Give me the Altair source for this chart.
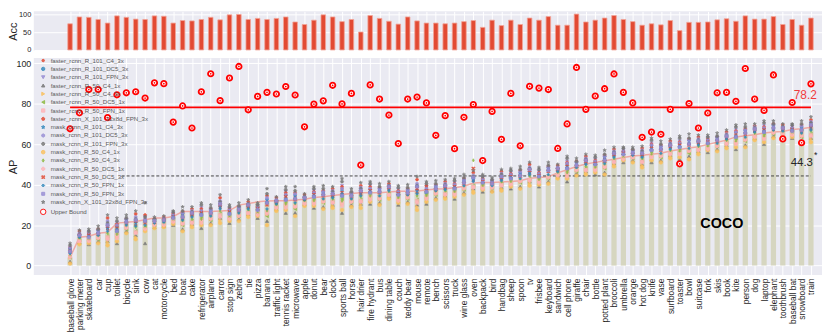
import altair as alt
import pandas as pd

FONT = "Liberation Sans"

categories = ["baseball glove", "parking meter", "skateboard", "car", "cup", "toilet", "bicycle", "sink", "cow", "cat",
              "motorcycle", "bed", "boat", "cake", "refrigerator", "airplane", "carrot", "stop sign", "zebra", "tie",
              "pizza", "banana", "traffic light", "tennis racket", "microwave", "apple", "donut", "bear", "clock", "sports ball",
              "horse", "hair drier", "fire hydrant", "bus", "dining table", "couch", "teddy bear", "mouse", "remote", "bench",
              "scissors", "truck", "wine glass", "oven", "backpack", "bird", "handbag", "sheep", "spoon", "tv",
              "frisbee", "keyboard", "sandwich", "cell phone", "giraffe", "chair", "bottle", "potted plant", "broccoli", "umbrella",
              "orange", "hot dog", "knife", "vase", "surfboard", "toaster", "bowl", "suitcase", "fork", "skis",
              "book", "kite", "person", "dog", "laptop", "elephant", "toothbrush", "baseball bat", "snowboard", "train"]

acc = [73, 92, 91, 85, 75, 95, 91, 86, 85, 95, 94, 75, 82, 81, 85, 91, 84, 98, 99, 85,
       88, 85, 88, 92, 78, 71, 83, 98, 92, 79, 85, 50, 96, 88, 80, 72, 92, 81, 75, 75,
       73, 75, 79, 82, 63, 83, 68, 83, 71, 89, 83, 93, 69, 69, 100, 78, 83, 89, 96, 85,
       79, 69, 73, 70, 82, 54, 77, 77, 78, 84, 87, 80, 95, 86, 86, 93, 71, 85, 69, 89]

mean_ap = [4, 14, 14.5, 16, 16.5, 21, 21.4, 21.8, 22.7, 23.5, 23.5, 24.3, 26.7, 26.7, 26.7, 26.7, 27, 27.2, 29.9, 30.7,
           31.5, 31.9, 32, 32, 32.4, 32.8, 33.7, 34, 34.6, 35.1, 35.6, 36, 36, 36, 36.4, 36.7, 36.7, 36.9, 37.4, 37.9,
           38, 38.5, 39.2, 40.8, 41.1, 41.1, 41.3, 41.6, 41.9, 43.2, 43.5, 43.9, 45.8, 47.4, 49, 50.2, 51, 51.8, 52.6, 53.4,
           54.2, 54.5, 55, 55.5, 56.6, 57.4, 58.1, 58.7, 59.9, 61, 62, 63.6, 64.2, 64.7, 65.5, 66, 66.3, 67.2, 67.6, 68.4]

upper_bound = [67.6, 75.5, 87, 87, 73.1, 84.4, 85.4, 85.9, 82.8, 90.3, 89.9, 70.9, 78.9, 68, 85.9, 94.8, 81.5, 92.7, 98.4, 77,
               83.6, 85.6, 84.8, 88.5, 84.3, 68.6, 79.8, 81.4, 89.1, 79.9, 85.1, 49.7, 89.3, 82.3, 74.4, 60.3, 82.3, 83.3, 80.4, 64.4,
               74.1, 57.8, 73.3, 79.6, 51.9, 76.2, 62.4, 85.1, 59.2, 88.6, 87.7, 87, 57.9, 70, 97.9, 77.2, 83.8, 87.4, 94.7, 85.6,
               80.4, 63.4, 66, 64.9, 77.2, 50.3, 80.1, 68, 75.4, 85.4, 85.6, 81.2, 97.4, 82.3, 76.7, 94.2, 62.6, 80.6, 60.7, 89.8]

upper_line = 78.2
baseline_line = 44.3

models = ["faster_rcnn_R_101_C4_3x", "faster_rcnn_R_101_DC5_3x", "faster_rcnn_R_101_FPN_3x", "faster_rcnn_R_50_C4_1x",
          "faster_rcnn_R_50_C4_3x", "faster_rcnn_R_50_DC5_1x", "faster_rcnn_R_50_FPN_1x", "faster_rcnn_X_101_32x8d_FPN_3x",
          "mask_rcnn_R_101_C4_3x", "mask_rcnn_R_101_DC5_3x", "mask_rcnn_R_101_FPN_3x", "mask_rcnn_R_50_C4_1x",
          "mask_rcnn_R_50_C4_3x", "mask_rcnn_R_50_DC5_1x", "mask_rcnn_R_50_DC5_3x", "mask_rcnn_R_50_FPN_1x",
          "mask_rcnn_R_50_FPN_3x", "mask_rcnn_X_101_32x8d_FPN_3x"]

palette = ["#E24A33", "#348ABD", "#988ED5", "#777777", "#FBC15E", "#8EBA42", "#FFB5B8"]
model_colors = [palette[i % 7] for i in range(len(models))]

PENTAGON = "M0,-1L0.951,-0.309L0.588,0.809L-0.588,0.809L-0.951,-0.309Z"
STAR = "M0,-1L0.235,-0.324L0.951,-0.309L0.38,0.124L0.588,0.809L0,0.4L-0.588,0.809L-0.38,0.124L-0.951,-0.309L-0.235,-0.324Z"
HEX1 = "M0,-1L0.866,-0.5L0.866,0.5L0,1L-0.866,0.5L-0.866,-0.5Z"
HEX2 = "M-1,0L-0.5,-0.866L0.5,-0.866L1,0L0.5,0.866L-0.5,0.866Z"
THIN_D = "M0,-1L0.6,0L0,1L-0.6,0Z"
XMARK = "M-1,-0.6L-0.6,-1L0,-0.4L0.6,-1L1,-0.6L0.4,0L1,0.6L0.6,1L0,0.4L-0.6,1L-1,0.6L-0.4,0Z"
model_shapes = ["circle", "circle", "triangle-down", "triangle-up", "triangle-right", "triangle-left", "square", PENTAGON,
                STAR, HEX1, HEX2, "circle", THIN_D, "cross", XMARK, "diamond", "square", STAR]
model_sizes = [6, 11, 11, 11, 11, 11, 11, 11, 13, 11, 11, 13, 11, 11, 11, 9, 9, 13]

# per category: AP of the 18 models (same order as `models`)
model_ap = [
    [8, 7, 8, 2, 4, 4, 5, 9, 8, 9, 10, 1, 5, 4, 7, 6, 7, 11],
    [14, 15, 14.5, 11.5, 11, 12.5, 12, 17, 14.5, 16, 15.5, 10.5, 13.5, 12, 15, 14, 15, 17.5],
    [16, 14, 16.5, 10.5, 12.5, 13.5, 13, 16, 15.5, 16, 17, 11, 13, 12, 15, 14.5, 14, 18],
    [16.5, 16, 17, 12, 13.5, 13, 14, 18, 17, 17.5, 18, 11, 14.5, 13.5, 15.5, 15, 16, 19.5],
    [18, 20, 18.5, 12, 11.5, 14.5, 14, 23.5, 18.5, 22, 21, 10, 16, 13, 19.5, 17, 20, 25],
    [20, 17, 21, 11, 14, 16, 15, 20.5, 19, 20, 22, 12, 15.5, 13.5, 18.5, 18, 17, 23.5],
    [22, 21.5, 22.5, 17, 18.5, 18, 19, 23, 22.5, 23, 23.5, 16, 19.5, 18.5, 21, 20, 21.5, 25],
    [20, 22.5, 21, 15, 14, 17, 16.5, 25.5, 21, 24, 23, 13, 19, 16, 22, 19.5, 22.5, 27],
    [23, 22, 24, 11, 18, 19, 18, 25, 22, 23, 24, 17, 19, 18, 21, 20, 22, 31],
    [22, 22, 22.5, 19, 20, 20, 20.5, 23, 22.5, 22.5, 23, 18.5, 20.5, 20, 21.5, 21, 22, 24],
    [22, 22.5, 22, 19.5, 19.5, 20.5, 20.5, 24, 22, 23.5, 23, 19, 21, 20, 22.5, 21.5, 22.5, 24.5],
    [25, 23.5, 25.5, 20, 22, 23, 22, 25.5, 24.5, 25, 26.5, 20.5, 22.5, 21.5, 24, 24, 23.5, 27],
    [25, 24, 25.5, 18, 20.5, 20, 21, 26.5, 25.5, 26, 27, 17, 22, 20.5, 23.5, 22.5, 24, 29],
    [24.5, 26, 25, 20.5, 20, 22, 21.5, 28, 25, 27, 26.5, 19, 23, 21, 25.5, 24, 26, 29],
    [27, 25, 28.5, 18.5, 21.5, 23.5, 22.5, 28, 26.5, 27, 30, 20, 23, 21, 26, 25.5, 25, 31],
    [26.5, 26, 27, 21, 23, 22.5, 23.5, 28, 27, 27.5, 28.5, 20, 24, 23, 25.5, 24.5, 26, 30],
    [28.5, 30.5, 29, 23.5, 22.5, 25.5, 25, 33.5, 29, 32, 31.5, 21, 27, 24, 30, 28, 30.5, 35],
    [27.5, 25.5, 28, 21, 23.5, 24.5, 23.5, 28, 27, 27.5, 29, 22, 24, 23, 26.5, 26, 25.5, 30],
    [28, 27.5, 28.5, 23, 24.5, 24.5, 25, 29, 28.5, 29, 29.5, 22, 25.5, 24.5, 27, 26, 27.5, 31],
    [28.5, 30, 29, 25.5, 25, 26.5, 26, 31.5, 29, 30.5, 30.5, 24, 27.5, 26, 29.5, 28, 30, 32.5],
    [29, 27.5, 29.5, 23.5, 25.5, 26.5, 26, 29, 28.5, 29, 30, 24.5, 26, 25, 28, 27.5, 27.5, 31],
    [31.5, 31, 32.5, 22, 25.5, 24.5, 26.5, 34.5, 32.5, 33.5, 35.5, 20, 27, 25.5, 30, 28, 31, 38],
    [30.5, 32, 31, 28, 27.5, 29, 29, 33.5, 31, 32.5, 32, 27, 30, 28.5, 31.5, 30.5, 32, 34],
    [35, 32.5, 36.5, 26, 29.5, 31, 30, 36, 34.5, 35, 37.5, 27.5, 30.5, 28.5, 34, 33, 32.5, 39],
    [34, 33, 34.5, 26, 29, 28, 29.5, 36, 34.5, 35.5, 37, 24.5, 30.5, 29, 32.5, 31, 33, 39],
    [32.5, 33.5, 33, 30.5, 30, 31.5, 31, 35, 33, 34, 34, 29.5, 32, 30.5, 33, 32.5, 33.5, 35.5],
    [36, 34, 37, 28.5, 31, 32.5, 31.5, 36.5, 35.5, 36, 38, 29.5, 32, 30.5, 35, 34.5, 34, 39],
    [35.5, 35, 36, 29, 31.5, 31, 32, 37, 36, 36.5, 38, 28, 32.5, 31.5, 34.5, 33, 35, 39.5],
    [34, 35.5, 34.5, 30, 29.5, 32, 31.5, 38, 34.5, 37, 36.5, 28.5, 33, 31, 35, 33.5, 35.5, 39],
    [38, 34.5, 39.5, 26, 30.5, 33, 31, 39, 37, 38, 41.5, 27.5, 32, 29.5, 36, 35.5, 34.5, 43],
    [35, 34.5, 35.5, 30, 31.5, 31.5, 32, 36, 35.5, 36, 36.5, 29, 32.5, 31.5, 34, 33, 34.5, 38],
    [35, 37, 36, 30.5, 30, 32.5, 32, 39.5, 36, 38.5, 38, 28.5, 34, 31.5, 36.5, 34.5, 37, 41],
    [38, 36, 39.5, 30.5, 33.5, 35, 34, 39, 37.5, 38, 40.5, 31.5, 34.5, 32.5, 37, 36.5, 36, 41.5],
    [37, 36.5, 37.5, 31, 33, 32.5, 33.5, 38.5, 37.5, 38, 39, 30, 34, 33, 36, 34.5, 36.5, 40.5],
    [37.5, 39, 38, 34.5, 34, 35.5, 35, 40.5, 38, 39.5, 39.5, 33, 36.5, 35, 38.5, 37, 39, 41.5],
    [36.5, 35, 37.5, 30, 32.5, 34, 33, 37, 36, 36.5, 38.5, 31, 33.5, 32, 35.5, 35, 35, 39.5],
    [36.5, 36, 37, 31.5, 33.5, 33, 34, 38, 37, 37.5, 38.5, 30.5, 34.5, 33.5, 35.5, 35, 36, 40],
    [36, 39, 37, 30, 29, 32.5, 32, 42.5, 37, 40.5, 39.5, 27.5, 34.5, 31, 38, 35.5, 39, 44],
    [38.5, 36, 39, 30.5, 33, 35, 34, 39.5, 37.5, 38, 40.5, 31.5, 34.5, 33, 37, 36.5, 36.5, 41.5],
    [38.5, 38, 39, 33.5, 35.5, 35, 36, 40, 39, 39.5, 40.5, 32.5, 36.5, 35.5, 37.5, 37, 38, 42],
    [38, 39.5, 38.5, 34.5, 34, 36, 35.5, 41.5, 38.5, 40.5, 40, 33, 37, 35, 39, 37.5, 39.5, 42.5],
    [40, 38, 41, 33, 35.5, 37, 36, 40.5, 39.5, 40, 42, 34, 36.5, 35, 39, 38.5, 38, 43],
    [41.5, 41, 42, 36, 38, 37.5, 38.5, 43, 42, 42.5, 43.5, 35, 39, 38, 40.5, 39.5, 41, 45],
    [42, 43.5, 42.5, 38, 37, 39.5, 39, 46, 42.5, 44.5, 44, 36, 52, 38.5, 48, 41.5, 43.5, 47],
    [42.5, 41, 43.5, 36.5, 38.5, 40, 39, 43, 42, 42.5, 44, 37.5, 39.5, 38, 41.5, 41, 41, 45],
    [41, 40.5, 41.5, 37, 38.5, 38.5, 39, 42, 41.5, 42, 42.5, 36.5, 39.5, 38.5, 40.5, 39.5, 40.5, 43.5],
    [42.5, 44, 43, 38.5, 38, 40.5, 40, 46.5, 43, 45.5, 45, 37, 41.5, 39.5, 43.5, 42, 44, 47.5],
    [45, 43, 46, 38, 40.5, 42, 41, 45.5, 44.5, 45, 47, 39, 41.5, 40, 44, 43.5, 43, 48],
    [45, 44.5, 45.5, 39, 41.5, 41, 42, 47, 45.5, 46.5, 47.5, 38, 42.5, 41.5, 44, 43, 44.5, 49],
    [45.5, 47.5, 46, 41.5, 41, 43, 42.5, 50, 46, 48.5, 48, 39.5, 44.5, 42, 47, 45, 47.5, 51],
    [45.5, 44, 46.5, 39, 41.5, 43, 42, 46, 45, 45.5, 47.5, 40, 42.5, 41, 44.5, 44, 44, 48.5],
    [47.5, 47, 48, 41.5, 43.5, 43, 44, 49, 48, 48.5, 49.5, 40.5, 44.5, 43.5, 46.5, 45, 47, 51],
    [46.5, 48, 47, 44, 43.5, 45, 45, 49.5, 47, 48.5, 48, 43, 46, 44.5, 47.5, 46.5, 48, 50],
    [50.5, 48, 51.5, 41.5, 44.5, 46.5, 45.5, 51, 49.5, 50.5, 53, 43, 46, 44, 49, 48.5, 48, 54],
    [50, 49.5, 50.5, 45.5, 47, 46.5, 47.5, 51.5, 50.5, 51, 51.5, 44.5, 48, 47, 49, 48.5, 49.5, 53],
    [50.5, 52, 51, 46.5, 46, 48, 47.5, 54, 51, 53, 52.5, 45, 49, 47, 51.5, 50, 52, 55],
    [51.5, 50, 52.5, 45, 47.5, 49, 48, 52, 51, 51.5, 53.5, 46, 48.5, 47, 50.5, 50, 50, 54.5],
    [53, 52, 53.5, 46, 48.5, 48, 49, 54.5, 53.5, 54, 55, 45, 50, 48.5, 51.5, 50.5, 52, 57],
    [54, 55.5, 54.5, 50.5, 50, 52, 51.5, 57.5, 54.5, 56.5, 56, 49, 53, 51, 55, 53.5, 55.5, 58.5],
    [56.5, 55, 57, 51, 53, 54, 53.5, 56.5, 56, 56.5, 58, 52, 53.5, 52.5, 55.5, 55, 55, 58.5],
    [56, 55.5, 56.5, 52, 53.5, 53, 53.5, 57, 56.5, 56.5, 57.5, 51, 54, 53.5, 55, 54.5, 55.5, 58.5],
    [54, 55.5, 54.5, 50, 49.5, 52, 51.5, 58, 54.5, 57, 56.5, 48.5, 53, 51, 55, 53.5, 55.5, 59],
    [59.5, 57, 60.5, 51, 54, 56, 54.5, 60, 59, 59.5, 62, 52, 55, 53.5, 58, 57.5, 57, 63],
    [58, 57.5, 58.5, 52, 54, 53.5, 54.5, 59.5, 58.5, 59, 60, 51, 55, 54, 57, 55.5, 57.5, 61.5],
    [58, 59.5, 58.5, 54.5, 54, 56, 55.5, 61.5, 58.5, 60.5, 60, 53, 57, 55, 59, 57.5, 59.5, 62.5],
    [60.5, 58.5, 61.5, 52.5, 55.5, 57, 56, 61, 60, 60.5, 63, 53.5, 56.5, 55, 59.5, 59, 58.5, 64],
    [60.5, 60, 61.5, 54, 56.5, 55.5, 57, 62.5, 61.5, 62, 63, 52.5, 57.5, 56.5, 59.5, 58, 60, 65],
    [60, 61.5, 60.5, 56.5, 56, 58, 57.5, 63.5, 60.5, 62.5, 62, 55, 59, 57, 61, 59.5, 61.5, 64.5],
    [62, 60.5, 63, 56, 58, 59.5, 58.5, 62.5, 61.5, 62, 63.5, 57, 59, 57.5, 61, 60.5, 60.5, 64.5],
    [62.5, 62, 63, 57.5, 59, 59, 59.5, 63.5, 63, 63.5, 64, 56.5, 60, 59, 61.5, 60.5, 62, 65.5],
    [62.5, 64, 63, 59.5, 59, 61, 60.5, 66, 63, 65, 64.5, 58, 62, 60, 63.5, 62.5, 64, 67],
    [66, 63.5, 67, 57.5, 60.5, 62.5, 61, 66.5, 65.5, 66, 68.5, 58.5, 61.5, 60, 64.5, 64, 63.5, 69.5],
    [66, 65.5, 66.5, 59.5, 62, 61.5, 62.5, 67.5, 66.5, 67, 68.5, 58.5, 63, 62, 65, 63.5, 65.5, 70],
    [66, 67.5, 66.5, 63, 63, 64.5, 64, 69, 66.5, 68.5, 68, 62, 65.5, 63.5, 67, 66, 67.5, 70],
    [68, 66, 69, 60, 63, 64.5, 63.5, 68.5, 67.5, 68, 70.5, 61, 64, 62.5, 67, 66.5, 66, 71.5],
    [68.5, 68, 69, 64, 65.5, 65, 66, 70, 69, 69.5, 70, 63, 66.5, 65.5, 67.5, 67, 68, 71.5],
    [67, 68, 67, 64.5, 64, 65.5, 65, 69.5, 67, 68.5, 68.5, 63.5, 66, 65, 67.5, 66.5, 68, 70],
    [68, 66.5, 68.5, 63, 65, 66, 65, 68, 67.5, 68, 69.5, 63.5, 65.5, 64.5, 67, 67, 66.5, 70],
    [67.5, 67, 68, 61.5, 64, 63.5, 64.5, 69.5, 68, 69, 70, 60.5, 65, 64, 66.5, 65.5, 67, 71.5],
    [67.5, 69.5, 68.5, 63, 62.5, 65, 64.5, 72, 68.5, 71, 70.5, 61, 66.5, 64, 69, 67, 69.5, 73.5],
]

assert len(categories) == len(acc) == len(mean_ap) == len(upper_bound) == len(model_ap) == 80

n = len(categories)
cat_df = pd.DataFrame({"idx": list(range(n)), "category": categories, "acc": acc,
                       "mean_ap": mean_ap, "ub": upper_bound, "model": ["Upper Bound"] * n})
rows = []
for i, vals in enumerate(model_ap):
    for m, v in zip(models, vals):
        rows.append({"idx": i, "model": m, "ap": v})
pts_df = pd.DataFrame(rows)
one = alt.Data(values=[{}])

W = 795
X_DOMAIN = [-3.34, 79.65]
x_scale = alt.Scale(domain=X_DOMAIN, nice=False, zero=False)
label_expr = "[" + ",".join("'" + c + "'" for c in categories) + "][datum.value]"

# ---------------- top panel: Acc ----------------
x_top = alt.X("idx:Q", scale=x_scale,
              axis=alt.Axis(values=list(range(n)), labels=False, ticks=False, domain=False,
                            grid=True, title=None, minExtent=0, maxExtent=0, offset=0))
top = alt.Chart(cat_df).mark_bar(width=4.6, color="#E24A33", stroke="#F3A497", strokeWidth=0.8).encode(
    x=x_top,
    y=alt.Y("acc:Q", scale=alt.Scale(domain=[-3, 107.6], nice=False, zero=False),
            axis=alt.Axis(values=[0, 50, 100], title="Acc", labelFontSize=7.5, titleFontSize=11,
                          ticks=False, domain=False, grid=True, labelPadding=3, titlePadding=2,
                          minExtent=13, maxExtent=13)),
    y2=alt.datum(0),
).properties(width=W, height=40)

# ---------------- bottom panel: AP ----------------
x_axis_bot = alt.Axis(values=list(range(n)), labelExpr=label_expr, labelAngle=-90, labelFontSize=8.5,
                      labelPadding=3, ticks=False, domain=False, grid=True, title=None,
                      labelOverlap=False, labelFlush=False, labelBound=False, labelSeparation=0)
y_scale = alt.Scale(domain=[-4.7, 102.6], nice=False, zero=False)
y_axis_bot = alt.Axis(values=[0, 20, 40, 60, 80, 100], title="AP", labelFontSize=9, titleFontSize=11,
                      ticks=False, domain=False, grid=True, labelPadding=3, titlePadding=2,
                      minExtent=13, maxExtent=13)


def X(field="idx:Q"):
    return alt.X(field, scale=x_scale, axis=x_axis_bot)


def Y(field):
    return alt.Y(field, scale=y_scale, axis=y_axis_bot)


def XD(v):
    return alt.XDatum(v, scale=x_scale, axis=x_axis_bot)


def YD(v):
    return alt.YDatum(v, scale=y_scale, axis=y_axis_bot)


dom = models + ["Upper Bound"]
legend = alt.Legend(title=None, orient="none", legendX=6, legendY=46.5, direction="vertical",
                    labelFontSize=6.2, labelColor="#5a5a5a", labelFont=FONT, rowPadding=0.4,
                    symbolStrokeWidth=1, padding=0, labelOffset=4, labelLimit=300)
fill_enc = alt.Fill("model:N", scale=alt.Scale(domain=dom, range=model_colors + ["white"]), legend=legend)
stroke_enc = alt.Stroke("model:N", scale=alt.Scale(domain=dom, range=model_colors + ["#FF0000"]), legend=legend)
shape_enc = alt.Shape("model:N", scale=alt.Scale(domain=dom, range=model_shapes + ["circle"]), legend=legend)
size_enc = alt.Size("model:N", scale=alt.Scale(type="ordinal", domain=dom, range=model_sizes + [30]), legend=legend)

bars = alt.Chart(cat_df).mark_bar(width=5.3, color="#D6D6C0").encode(
    x=X(), y=Y("mean_ap:Q"), y2=alt.datum(0))

line = alt.Chart(cat_df).mark_line(color="#EFA39C", strokeWidth=1.5, opacity=0.9).encode(
    x=X(), y=Y("mean_ap:Q"))

red_rule = alt.Chart(one).mark_rule(color="#FF0000", strokeWidth=1.6).encode(
    x=XD(0), x2=alt.datum(n - 1), y=YD(upper_line))

dash_rule = alt.Chart(one).mark_rule(color="#444444", strokeWidth=1, strokeDash=[3, 2]).encode(
    x=XD(5.5), x2=alt.datum(n - 1), y=YD(baseline_line))

points = alt.Chart(pts_df).mark_point(filled=True, opacity=0.9, strokeWidth=0.6).encode(
    x=X(), y=Y("ap:Q"), fill=fill_enc, stroke=stroke_enc, shape=shape_enc, size=size_enc)

ub_rings = alt.Chart(cat_df).mark_point(strokeWidth=1.8, opacity=1, filled=True).encode(
    x=X(), y=Y("ub:Q"), fill=fill_enc, stroke=stroke_enc, shape=shape_enc, size=size_enc)

ub_dots = alt.Chart(cat_df).mark_point(shape="circle", filled=True, size=3, color="#FF0000", opacity=1).encode(
    x=X(), y=Y("ub:Q"))

t_upper = alt.Chart(one).mark_text(text=f"{upper_line}", color="#F03C3C", fontSize=12, align="right",
                                   baseline="middle", dx=6, dy=-12.5).encode(
    x=XD(n - 1), y=YD(upper_line))
t_base = alt.Chart(one).mark_text(text=f"{baseline_line}", color="#262626", fontSize=11.5, align="right",
                                  baseline="middle", dx=2, dy=-13.5).encode(
    x=XD(n - 1), y=YD(baseline_line))
t_star = alt.Chart(one).mark_text(text="*", color="#262626", fontSize=9, align="left",
                                  baseline="middle", dx=3, dy=-21).encode(
    x=XD(n - 1), y=YD(baseline_line))
t_coco = alt.Chart(one).mark_text(text="COCO", color="black", fontSize=14.5, fontWeight="bold",
                                  align="center", baseline="middle").encode(
    x=XD(69.5), y=YD(20.5))

bottom = alt.layer(bars, line, red_rule, dash_rule, points, ub_rings, ub_dots,
                   t_upper, t_base, t_star, t_coco).properties(width=W, height=219)

chart = alt.vconcat(top, bottom, spacing=4).properties(padding=0).configure(
    font=FONT, background="white"
).configure_view(
    fill="#EAEAF2", stroke=None
).configure_axis(
    gridColor="white", gridWidth=1, labelColor="#262626", titleColor="#262626",
    labelFont=FONT, titleFont=FONT, titleFontWeight="normal", labelOverlap=False
)

chart.save("out.html", embed_options={"renderer": "svg", "actions": False})
